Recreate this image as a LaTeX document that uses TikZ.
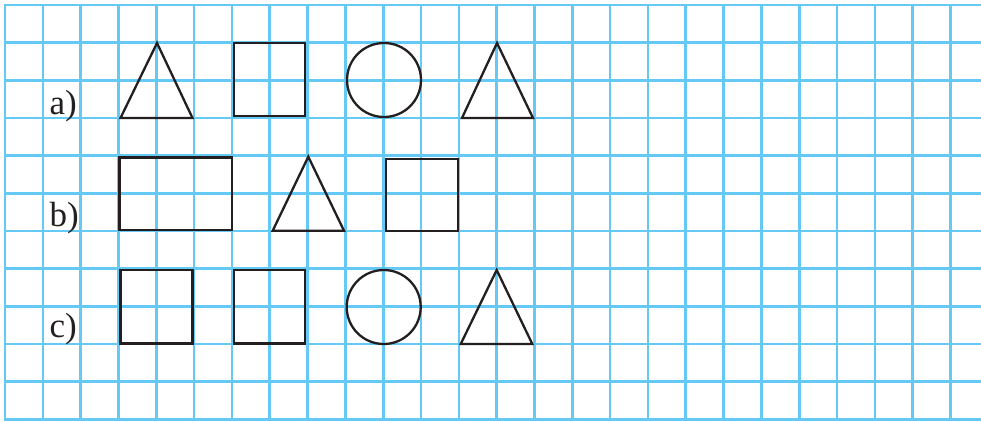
\documentclass[tikz,border=0pt]{standalone}
\usepackage{fontspec}
\setmainfont{Liberation Serif}
\definecolor{gridblue}{RGB}{100,202,245}
\definecolor{ink}{RGB}{35,31,32}
\tikzset{
  gridline/.style={draw=gridblue, line width=2.6pt},
  shapeline/.style={draw=ink, line width=2.3pt, line join=miter},
  lab/.style={anchor=base west, inner sep=0pt, font=\fontsize{35}{35}\selectfont, text=ink}
}
\begin{document}
\begin{tikzpicture}[x=1pt,y=-1pt]
\useasboundingbox (0,0) rectangle (981,421);
\fill[white] (0,0) rectangle (981,421);
% grid
\foreach \i in {0,...,25} {
  \draw[gridline] ({5+37.82*\i},3.7) -- ({5+37.82*\i},421);
}
\foreach \j in {0,...,11} {
  \draw[gridline] (3.7,{5+37.67*\j}) -- (981,{5+37.67*\j});
}
% labels
\node[lab] (la) at (49.5,114) {a)};
\node[lab] (lb) at (49.5,226) {b)};
\node[lab] (lc) at (49.5,337.5) {c)};
% row a
\draw[shapeline] (120.5,118) -- (157,43) -- (192.5,118) -- cycle;
\draw[shapeline] (234,43) rectangle (305,116);
\draw[shapeline] (384,80) circle (37);
\draw[shapeline] (462,118) -- (497,43) -- (533,118) -- cycle;
% row b
\draw[shapeline] (119.5,157.5) rectangle (232,230);
\draw[shapeline] (272.7,230.7) -- (308.3,156.7) -- (344,230.7) -- cycle;
\draw[shapeline] (386,159.3) rectangle (458.3,230.7);
% row c
\draw[shapeline] (120.5,270) rectangle (192.5,343.5);
\draw[shapeline] (234,270) rectangle (305,343.5);
\draw[shapeline] (383.7,307) circle (37);
\draw[shapeline] (460.7,344) -- (496.7,270) -- (532.3,344) -- cycle;
\end{tikzpicture}
\end{document}
